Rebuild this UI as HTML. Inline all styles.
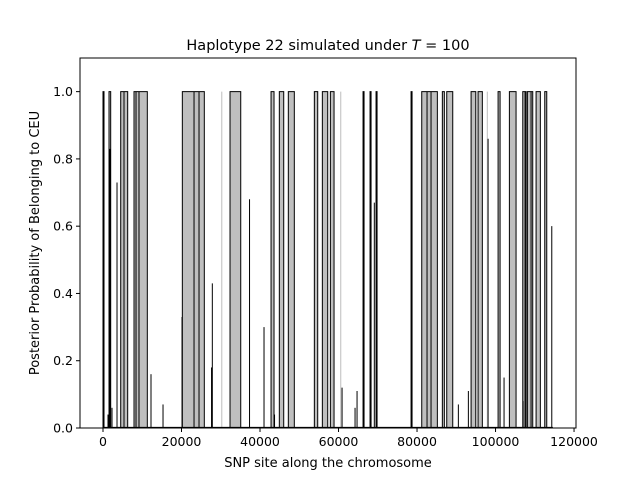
<!DOCTYPE html>
<html><head><meta charset="utf-8"><style>
body{margin:0;background:#fff}
svg{display:block;font-family:"DejaVu Sans","Liberation Sans",sans-serif}
</style></head><body>
<svg id="chart" width="640" height="480">
<rect width="640" height="480" fill="#fff"/>
<g id="bands"></g><g id="lines"></g><g id="axes"></g>
<text x="328" y="50" font-size="14.5" text-anchor="middle">Haplotype 22 simulated under <tspan font-style="italic">T</tspan> =  100</text>
<text x="328" y="467" font-size="13" text-anchor="middle">SNP site along the chromosome</text>
<text transform="translate(39,243) rotate(-90)" font-size="13" text-anchor="middle">Posterior Probability of Belonging to CEU</text>
</svg>
<script>
const bandStart=[0,1530,4510,7900,20210,32360,42810,44920,47210,53840,55880,57920,66250,68030,69560,78480,81200,86450,87570,93770,95550,100650,103530,106940,108110,110330,112540];
const bandEnd=[255,1960,6290,11290,25810,35090,43570,46040,48740,54700,57250,58860,66500,68290,69820,78730,85180,86960,89100,94970,96640,101160,105230,107780,109480,111420,113050];
const faintX=[30250,60560,97920];
const spikeX=[1270,1780,2290,3570,12230,15290,20130,27650,27850,37330,41020,43700,60900,64210,64720,69120,78660,90530,93080,98100,102170,107010,114330,5350,8410,9170,23190,24460,82550,83570,107520,109050];
const spikeV=[0.04,0.83,0.06,0.73,0.16,0.07,0.33,0.18,0.43,0.68,0.30,0.04,0.12,0.06,0.11,0.67,0.93,0.07,0.11,0.86,0.15,0.08,0.60,1,1,1,1,1,1,1,1,1];
const xTicks=[0,20000,40000,60000,80000,100000,120000];
const yTicks=[0,0.2,0.4,0.6,0.8,1.0];
const L=80,R=576,T=58,B=428;
const xMin=-5860,xMax=120500,yMax=1.1;
const sx=v=>L+(v-xMin)/(xMax-xMin)*(R-L);
const sy=v=>B-v/yMax*(B-T);
const NS="http://www.w3.org/2000/svg";
function mk(tag,attrs,parent){const e=document.createElementNS(NS,tag);for(const k in attrs)e.setAttribute(k,attrs[k]);parent.appendChild(e);return e;}
const gB=document.getElementById('bands'),gL=document.getElementById('lines'),gA=document.getElementById('axes');
faintX.forEach(x=>{
  const e=mk('line',{x1:sx(x),x2:sx(x),y1:sy(0),y2:sy(1),stroke:'#c8c8c8','stroke-width':1.2},gB);
  
  
});
bandStart.forEach((s,i)=>{
  const x1=sx(s),x2=Math.max(sx(bandEnd[i]),x1+1);
  const r=mk('rect',{x:x1,y:sy(1),width:x2-x1,height:sy(0)-sy(1),fill:'#bfbfbf'},gB);
  
  
  const p=mk('path',{d:`M${x1},${sy(0)}V${sy(1)}H${x2}V${sy(0)}`,fill:'none',stroke:'#000','stroke-width':1},gL);
  
  
});
spikeX.forEach((x,i)=>{
  const e=mk('line',{x1:sx(x),x2:sx(x),y1:sy(0),y2:sy(spikeV[i]),stroke:'#000','stroke-width':1},gL);
  
  
});
const base=mk('line',{x1:sx(0),x2:sx(114600),y1:sy(0)-0.5,y2:sy(0)-0.5,stroke:'#000','stroke-width':1.2},gL);


const frame=mk('rect',{x:L,y:T,width:R-L,height:B-T,fill:'none',stroke:'#000','stroke-width':1},gA);


xTicks.forEach(t=>{
  mk('line',{x1:sx(t),x2:sx(t),y1:B,y2:B+4,stroke:'#000'},gA);
  const e=mk('text',{x:sx(t),y:B+18,'font-size':12.5,'text-anchor':'middle'},gA);
  e.textContent=t;
  
  
});
yTicks.forEach(t=>{
  mk('line',{x1:L-4,x2:L,y1:sy(t),y2:sy(t),stroke:'#000'},gA);
  const e=mk('text',{x:L-7,y:sy(t)+4.5,'font-size':12.5,'text-anchor':'end'},gA);
  e.textContent=t.toFixed(1);
  
  
});
</script>
</body></html>
